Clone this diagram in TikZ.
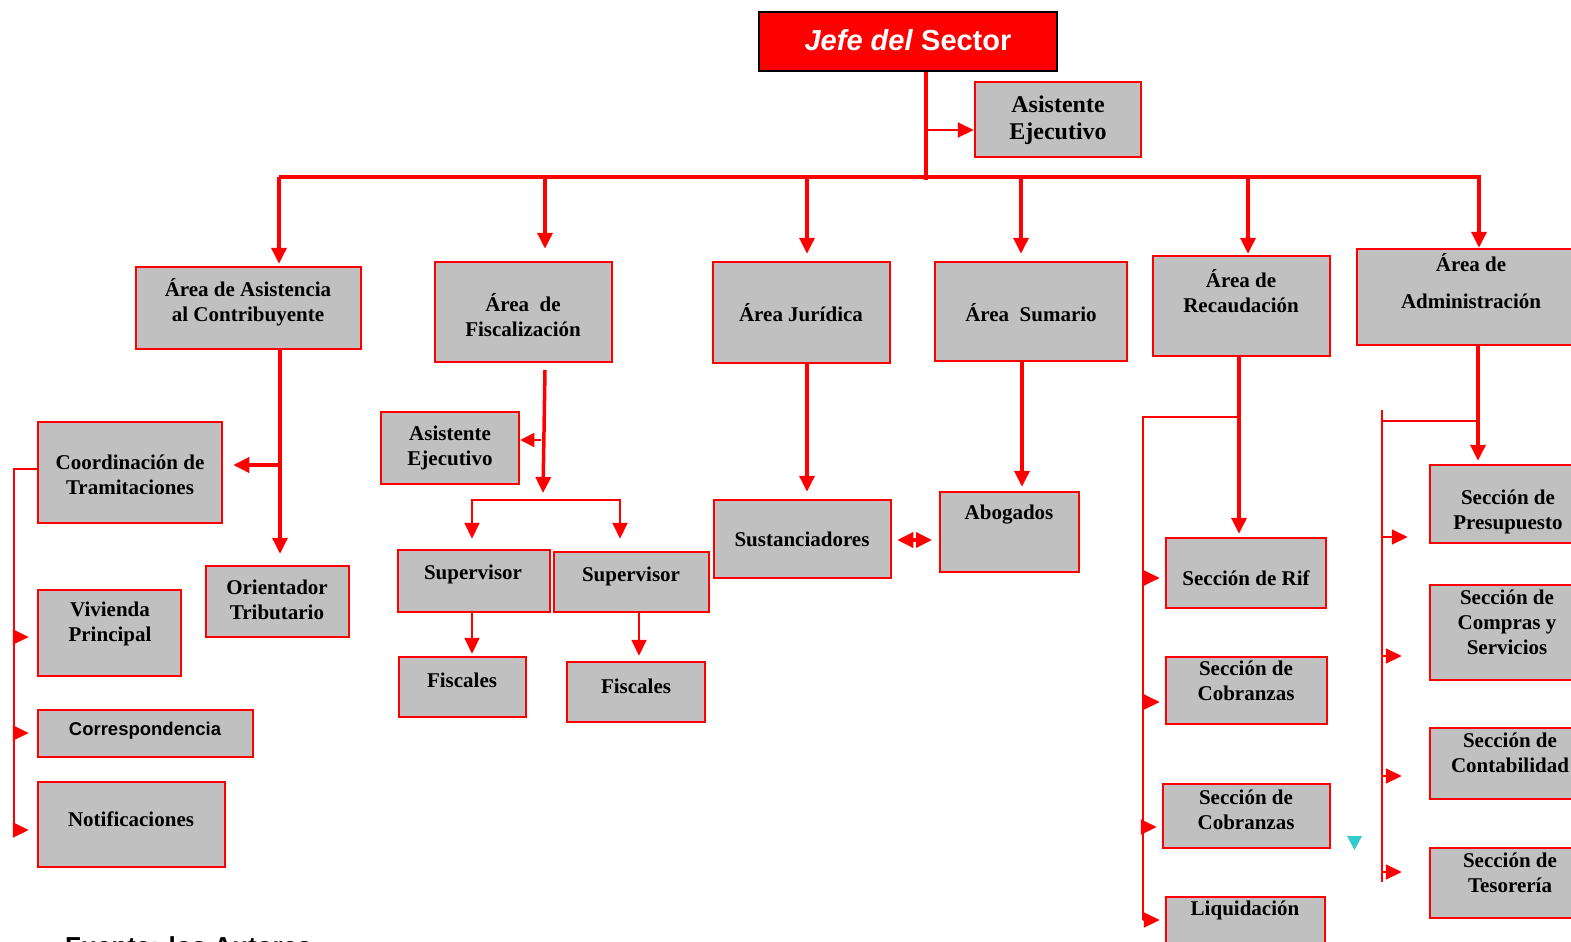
\documentclass[tikz,border=0pt]{standalone}
\usepackage{fontspec}
\setmainfont{Liberation Serif}
\newfontfamily\arial{Liberation Sans}
\usetikzlibrary{positioning}
\usetikzlibrary{arrows.meta}

\definecolor{boxgray}{RGB}{192,192,192}
\definecolor{markcyan}{RGB}{51,204,204}

\tikzset{
    box/.style={rectangle, draw=red, fill=boxgray, line width=2.5pt, inner sep=0pt},
    head/.style={rectangle, draw=black, fill=red, line width=2pt, inner sep=0pt},
    lbl/.style={font=\bfseries\fontsize{21}{25}\selectfont, align=center, inner sep=0pt},
    link/.style={red, line width=3.5pt},
    branch/.style={red, line width=2pt},
    arr/.style={-{Triangle[length=16pt,width=15pt]}},
}

\begin{document}
\begin{tikzpicture}[x=1pt,y=-1pt]
                \useasboundingbox (0,0) rectangle (1571,942);
                \clip (0,0) rectangle (1571,942);

                % Jefe y asistente
                \node[head, minimum width=298pt, minimum height=59pt] (jefe) at (908,41.5) {};
                \node[font=\arial\bfseries\fontsize{29}{32}\selectfont, text=white, inner sep=0pt] (jefeL) at (908,40) {\textit{Jefe del} Sector};
                \node[box, minimum width=166pt, minimum height=75pt] (asis0) at (1058,119.5) {};
                \node[lbl, font=\bfseries\fontsize{24}{27}\selectfont] (asis0L) at (1058,120) {Asistente\\Ejecutivo};

                % Areas
                \node[box, minimum width=225pt, minimum height=82pt] (asis) at (248.5,308) {};
                \node[lbl] (asisL) at (248,302) {Área de Asistencia\\al Contribuyente};
                \node[box, minimum width=177pt, minimum height=100pt] (fisc) at (523.5,312) {};
                \node[lbl] (fiscL) at (523,315) {Área~ de\\Fiscalización};
                \node[box, minimum width=177pt, minimum height=101pt] (jur) at (801.5,312.5) {};
                \node[lbl] (jurL) at (801,313) {Área Jurídica};
                \node[box, minimum width=192pt, minimum height=99pt] (sum) at (1031,311.5) {};
                \node[lbl] (sumL) at (1031,313) {Área~ Sumario};
                \node[box, minimum width=177pt, minimum height=100pt] (rec) at (1241.5,306) {};
                \node[lbl] (recL) at (1241,291) {Área de\\Recaudación};
                \node[box, minimum width=233pt, minimum height=96pt] (adm) at (1473.5,297) {};
                \node[lbl] (admL) at (1471,281) {Área de\\[12pt]Administración};

                % Asistencia al contribuyente
                \node[box, minimum width=184pt, minimum height=101pt] (coord) at (130,472.5) {};
                \node[lbl] (coordL) at (130,475) {Coordinación de\\Tramitaciones};
                \node[box, minimum width=143pt, minimum height=71pt] (orient) at (277.5,601.5) {};
                \node[lbl] (orientL) at (277,600) {Orientador\\Tributario};
                \node[box, minimum width=143pt, minimum height=86pt] (viv) at (109.5,633) {};
                \node[lbl] (vivL) at (110,624) {Vivienda\\Principal};
                \node[box, minimum width=215pt, minimum height=47pt] (corr) at (145.5,733.5) {};
                \node[lbl, font=\arial\bfseries\fontsize{18.5}{22}\selectfont] (corrL) at (145,731) {Correspondencia};
                \node[box, minimum width=187pt, minimum height=85pt] (notif) at (131.5,824.5) {};
                \node[lbl] (notifL) at (131,819) {Notificaciones};

                % Fiscalizacion
                \node[box, minimum width=138pt, minimum height=72pt] (asisf) at (450,448) {};
                \node[lbl] (asisfL) at (450,448) {Asistente\\Ejecutivo};
                \node[box, minimum width=152pt, minimum height=62pt] (sup1) at (474,581) {};
                \node[lbl] (sup1L) at (473,574) {Supervisor};
                \node[box, minimum width=155pt, minimum height=60pt] (sup2) at (631.5,582) {};
                \node[lbl] (sup2L) at (631,576) {Supervisor};
                \node[box, minimum width=127pt, minimum height=60pt] (fis1) at (462.5,687) {};
                \node[lbl] (fis1L) at (462,680) {Fiscales};
                \node[box, minimum width=138pt, minimum height=60pt] (fis2) at (636,692) {};
                \node[lbl] (fis2L) at (636,686) {Fiscales};

                % Juridica y sumario
                \node[box, minimum width=177pt, minimum height=78pt] (sust) at (802.5,539) {};
                \node[lbl] (sustL) at (802,539) {Sustanciadores};
                \node[box, minimum width=139pt, minimum height=80pt] (abog) at (1009.5,532) {};
                \node[lbl] (abogL) at (1009,515) {Abogados};

                % Recaudacion
                \node[box, minimum width=160pt, minimum height=70pt] (rif) at (1246,573) {};
                \node[lbl] (rifL) at (1246,578) {Sección de Rif};
                \node[box, minimum width=161pt, minimum height=67pt] (cob1) at (1246.5,690.5) {};
                \node[lbl] (cob1L) at (1246,681) {Sección de\\Cobranzas};
                \node[box, minimum width=167pt, minimum height=64pt] (cob2) at (1246.5,816) {};
                \node[lbl] (cob2L) at (1246,810) {Sección de\\Cobranzas};
                \node[box, minimum width=159pt, minimum height=93pt] (liq) at (1245.5,943.5) {};
                \node[lbl] (liqL) at (1245,910) {Liquidación};

                % Administracion
                \node[box, minimum width=160pt, minimum height=78pt] (pres) at (1510,504) {};
                \node[lbl] (presL) at (1508,512) {Sección de\\Presupuesto};
                \node[box, minimum width=160pt, minimum height=95pt] (comp) at (1510,632.5) {};
                \node[lbl] (compL) at (1507,622) {Sección de\\Compras y\\Servicios};
                \node[box, minimum width=160pt, minimum height=71pt] (cont) at (1510,763.5) {};
                \node[lbl] (contL) at (1510,753) {Sección de\\Contabilidad};
                \node[box, minimum width=160pt, minimum height=70pt] (tes) at (1510,883) {};
                \node[lbl] (tesL) at (1510,873) {Sección de\\Tesorería};

                % Main bus
                \coordinate (trunk) at (926,180);
                \draw[link] ([xshift=18pt]jefe.south) -- (trunk);
                \draw[branch,arr] (trunk |- 0,130) -- (asis0.west |- 0,130);
                \draw[link] (279,177) -- (1481,177);
                \foreach \x/\b/\s in {279/asis/2,545/fisc/12,807/jur/7,1021/sum/7,1248/rec/1,1479/adm/0}
                    \draw[link,arr,shorten >=\s pt] (\x,177) -- (\x,177 |- \b.north);

                % Asistencia al contribuyente
                \draw[link,arr,shorten >=11pt] (280,349) -- (280,349 |- orient.north);
                \draw[link,arr,shorten >=10pt] (280,465) -- (coord.east |- 0,465);
                \draw[branch] (coord.west |- 0,469) -| (14,830);
                \foreach \b/\y in {viv/637,corr/733,notif/830}
                    \draw[branch,arr,shorten >=8pt] (14,\y) -- (\b.west |- 14,\y);

                % Fiscalizacion
                \draw[link,arr] (545,370) -- (543,493);
                \draw[branch,-{Triangle[length=14pt,width=14pt]}] (541,440) -- (asisf.east |- 0,440);
                \draw[branch,arr,shorten >=10pt] (543,500) -| (472,540 |- sup1.north);
                \draw[branch,arr,shorten >=12pt] (543,500) -| (620,540 |- sup2.north);
                \draw[branch,arr,shorten >=2pt] (472,612) -- (472,612 |- fis1.north);
                \draw[branch,arr,shorten >=5pt] (639,612) -- (639,612 |- fis2.north);

                % Juridica y sumario
                \draw[link,arr,shorten >=7pt] (807,363) -- (807,363 |- sust.north);
                \draw[link,arr,shorten >=4pt] (1022,361) -- (1022,361 |- abog.north);
                \draw[link,{Triangle[length=16pt,width=15pt]}-{Triangle[length=16pt,width=15pt]}] (sust.east |- 0,540) ++(5,0) -- (932,540);

                % Recaudacion
                \draw[link,arr,shorten >=3pt] (1239,356) -- (1239,356 |- rif.north);
                \draw[branch] (1239,417) -| (1143,920);
                \foreach \b/\y in {rif/578,cob1/702,cob2/827,liq/920}
                    \draw[branch,arr,shorten >=5pt] (1143,\y) -- (\b.west |- 1143,\y);

                % Administracion
                \draw[link,arr,shorten >=3pt] (1478,345) -- (1478,345 |- pres.north);
                \draw[branch] (1478,421) -- (1382,421);
                \draw[branch] (1382,410) -- (1382,882);
                \foreach \b/\y/\s in {pres/537/21,comp/656/27,cont/776/27,tes/872/27}
                    \draw[branch,arr,shorten >=\s pt] (1382,\y) -- (\b.west |- 1382,\y);

                % Marks
                \fill[markcyan] (1347,836) -- (1362,836) -- (1354.5,850) -- cycle;
                \node[anchor=base west, font=\arial\bfseries\fontsize{26}{28}\selectfont, inner sep=0pt] (fuente) at (65,955) {Fuente: los Autores};

            \end{tikzpicture}
\end{document}
